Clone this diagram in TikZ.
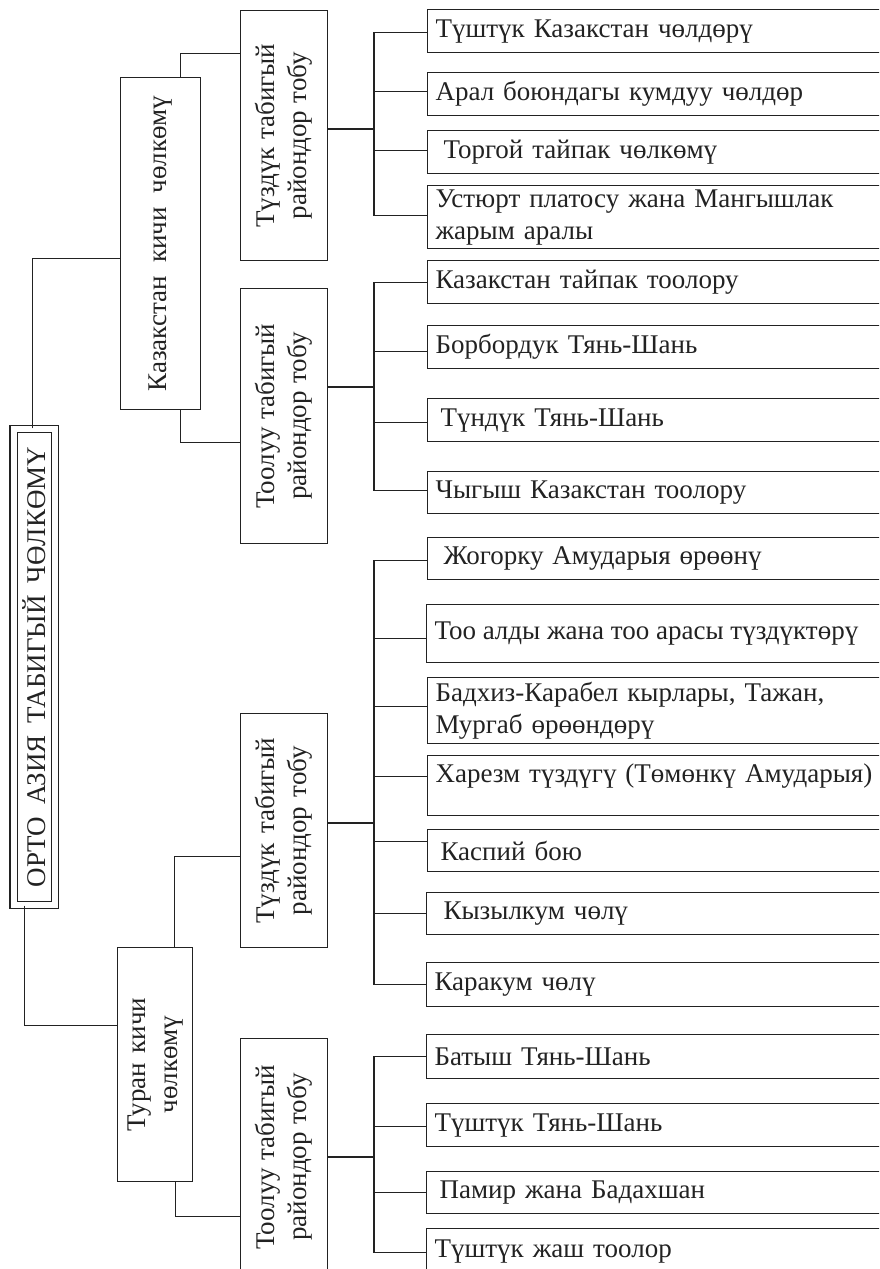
\documentclass[tikz,border=0pt]{standalone}
\usepackage{fontspec}
\setmainfont{Liberation Serif}
\definecolor{ink}{HTML}{222222}
\newcommand\wsp[1]{\spaceskip=#1\fontdimen2\font plus 0.5\fontdimen3\font minus 0.5\fontdimen4\font\relax}
\begin{document}
\begin{tikzpicture}[x=1pt,y=-1pt,
  every node/.style={font=\fontsize{27}{32}\selectfont\wsp{1.4}, text=ink},
  box/.style={draw=ink, line width=1.1pt, inner sep=0pt, anchor=north west},
  leaf/.style={box, text width=484pt, inner xsep=8pt, align=left},
  link/.style={draw=ink, line width=1.1pt}]
\useasboundingbox (0,0) rectangle (879,1269);
\clip (0,0) rectangle (879,1269);

% root
\node[draw=ink, line width=1.1pt, double, double distance=6pt, inner sep=0pt,
      minimum width=41.5pt, minimum height=476pt] (root) at (34.25,667)
      {\wsp{1.75}\rotatebox{90}{ОРТО АЗИЯ ТАБИГЫЙ ЧӨЛКӨМҮ}};

% sub-regions
\node[box, minimum width=80pt, minimum height=332pt] (kaz) at (120,77)
      {\wsp{2.0}\rotatebox{90}{Казакстан кичи чөлкөмү}};
\node[box, minimum width=75pt, minimum height=234pt] (turan) at (117,947)
      {\rotatebox{90}{\begin{tabular}{@{}c@{}}Туран кичи\\чөлкөмү\end{tabular}}};

% groups
\node[box, minimum width=87pt, minimum height=250pt] (g1) at (240,10)
      {\wsp{1.1}\rotatebox{90}{\begin{tabular}{@{}c@{}}Түздүк табигый\\райондор тобу\end{tabular}}};
\node[box, minimum width=87pt, minimum height=255pt] (g2) at (240,288)
      {\wsp{1.1}\rotatebox{90}{\begin{tabular}{@{}c@{}}Тоолуу табигый\\райондор тобу\end{tabular}}};
\node[box, minimum width=87pt, minimum height=234pt] (g3) at (240,713)
      {\rotatebox{90}{\begin{tabular}{@{}c@{}}Түздүк табигый\\райондор тобу\end{tabular}}};
\node[box, minimum width=87pt, minimum height=237pt] (g4) at (240,1038)
      {\wsp{1.1}\rotatebox{90}{\begin{tabular}{@{}c@{}}Тоолуу табигый\\райондор тобу\end{tabular}}};

% leaves
\node[leaf, minimum height=43pt] (l1) at (427,9) {Түштүк Казакстан чөлдөрү};
\node[leaf, minimum height=43pt] (l2) at (427,72) {Арал боюндагы кумдуу чөлдөр};
\node[leaf, minimum height=43pt] (l3) at (427,130) {\hspace*{8pt}Торгой тайпак чөлкөмү};
\node[leaf, minimum height=63pt] (l4) at (427,185) {Устюрт платосу жана Мангышлак\\жарым аралы};
\node[leaf, minimum height=43pt] (l5) at (427,260) {Казакстан тайпак тоолору};
\node[leaf, minimum height=43pt] (l6) at (427,325) {Борбордук Тянь-Шань};
\node[leaf, minimum height=43pt] (l7) at (427,398) {\hspace*{5pt}Түндүк Тянь-Шань};
\node[leaf, minimum height=42pt] (l8) at (427,471) {Чыгыш Казакстан тоолору};
\node[leaf, minimum height=42pt] (l9) at (427,537) {\hspace*{8pt}Жогорку Амударыя өрөөнү};
\node[leaf, minimum height=58pt] (l10) at (426,604) {\wsp{1.0}Тоо алды жана тоо арасы түздүктөрү};
\node[leaf, minimum height=66pt] (l11) at (427,677) {Бадхиз-Карабел кырлары, Тажан,\\Мургаб өрөөндөрү};
\node[leaf, minimum height=60pt, text depth=24pt] (l12) at (427,755) {Харезм түздүгү (Төмөнкү Амударыя)};
\node[leaf, minimum height=42pt] (l13) at (427,829) {\hspace*{5pt}Каспий бою};
\node[leaf, minimum height=42pt] (l14) at (426,892) {\hspace*{9pt}Кызылкум чөлү};
\node[leaf, minimum height=44pt] (l15) at (426,962) {Каракум чөлү};
\node[leaf, minimum height=44pt] (l16) at (426,1034) {Батыш Тянь-Шань};
\node[leaf, minimum height=43pt] (l17) at (426,1103) {Түштүк Тянь-Шань};
\node[leaf, minimum height=42pt] (l18) at (426,1171) {\hspace*{5pt}Памир жана Бадахшан};
\node[leaf, minimum height=46pt] (l19) at (426,1228) {Түштүк жаш тоолор};

% main connectors
\draw[link] ([xshift=-2pt]root.north) |- ([yshift=-15pt]kaz.west);
\draw[link] ([xshift=-10pt]root.south) |- ([yshift=39pt]turan.west);
\draw[link] ([xshift=20pt]kaz.north) |- ([yshift=82pt]g1.west);
\draw[link] ([xshift=20pt]kaz.south) |- ([yshift=-26.5pt]g2.west);
\draw[link] ([xshift=19.5pt]turan.north) |- ([yshift=-26pt]g3.west);
\draw[link] ([xshift=20.5pt]turan.south) |- ([yshift=-59.5pt]g4.west);

% buses
\coordinate (b1) at (374,129);
\coordinate (b2) at (374,387);
\coordinate (b3) at (374,823);
\coordinate (b4) at (374,1157);
\foreach \l/\s in {l1/-1.5, l2/2.5, l3/1.5, l4/1.5}
  \draw[link] (g1.east |- b1) -- (b1) |- ([yshift=\s pt]\l.west);
\foreach \l/\s in {l5/0, l6/-4.5, l7/-2.5, l8/2}
  \draw[link] (g2.east |- b2) -- (b2) |- ([yshift=\s pt]\l.west);
\foreach \l/\s in {l9/-2, l10/-5, l11/4, l12/9, l13/9, l14/0, l15/0}
  \draw[link] (g3.east |- b3) -- (b3) |- ([yshift=\s pt]\l.west);
\foreach \l/\s in {l16/0, l17/-1.5, l18/0, l19/-1}
  \draw[link] (g4.east |- b4) -- (b4) |- ([yshift=\s pt]\l.west);
\end{tikzpicture}
\end{document}
